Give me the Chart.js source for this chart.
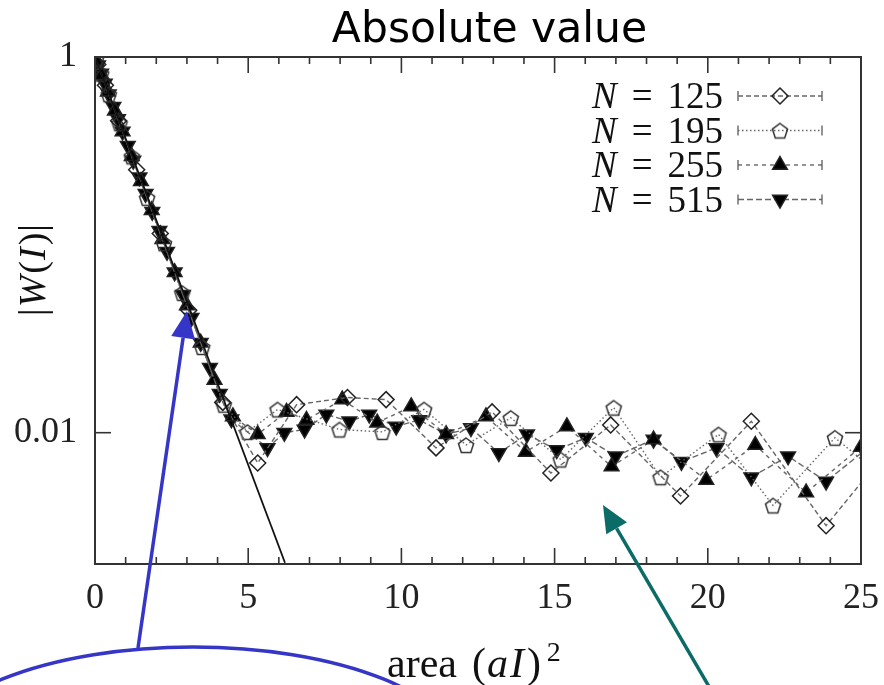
<!DOCTYPE html>
<html>
<head>
<meta charset="utf-8">
<title>Absolute value</title>
<script src="https://cdn.jsdelivr.net/npm/chart.js@4.4.1/dist/chart.umd.min.js"></script>
<style>
  html, body { margin: 0; padding: 0; background: #fff; }
  #wrap { width: 884px; height: 685px; position: relative; }
</style>
</head>
<body>
<div id="wrap"><canvas id="chart"></canvas></div>
<script>
'use strict';

/* =============================================
   DATA  (area (aI)^2  vs  |W(I)|)
   ============================================= */
const X_125 = [0.09, 0.34, 0.77, 1.36, 2.13, 3.06, 4.17, 5.31, 6.58, 8.24, 9.5, 11.13, 12.96, 14.88, 16.83, 19.11, 21.42, 23.86, 26.3];
const Y_125 = [0.913, 0.708, 0.458, 0.251, 0.115, 0.0448, 0.0145, 0.0069, 0.0141, 0.0154, 0.0150, 0.0083, 0.0129, 0.0061, 0.0110, 0.0046, 0.0115, 0.0032, 0.0098];

const X_195 = [0.03, 0.2, 0.45, 0.8, 1.2, 1.7, 2.25, 2.85, 3.5, 4.2, 4.98, 5.96, 7.98, 9.38, 10.74, 12.11, 13.57, 15.2, 16.93, 18.46, 20.35, 22.13, 24.15, 26.2];
const Y_195 = [0.970, 0.816, 0.633, 0.444, 0.296, 0.178, 0.102, 0.0555, 0.0286, 0.0141, 0.0101, 0.0133, 0.0104, 0.0101, 0.0133, 0.0086, 0.0120, 0.0072, 0.0136, 0.0058, 0.0098, 0.0041, 0.0094, 0.0050];

const X_255 = [0.05, 0.22, 0.42, 0.65, 0.9, 1.2, 1.5, 1.85, 2.2, 2.6, 3.0, 3.45, 3.9, 4.5, 5.31, 6.25, 6.9, 8.07, 9.21, 10.32, 11.46, 12.76, 14.06, 15.4, 16.86, 18.23, 19.95, 21.55, 23.21, 25.0];
const Y_255 = [0.951, 0.800, 0.653, 0.517, 0.401, 0.296, 0.218, 0.153, 0.107, 0.0714, 0.0476, 0.0301, 0.0191, 0.0122, 0.0098, 0.0129, 0.0117, 0.0150, 0.0113, 0.0138, 0.0098, 0.0122, 0.0079, 0.0108, 0.0066, 0.0092, 0.0056, 0.0086, 0.0048, 0.0084];

const X_515 = [0.0, 0.1, 0.2, 0.32, 0.45, 0.6, 0.75, 0.9, 1.07, 1.25, 1.45, 1.65, 1.87, 2.1, 2.35, 2.6, 2.87, 3.15, 3.45, 3.75, 4.07, 4.45,
               5.63, 6.18, 6.84, 7.55, 8.3, 8.95, 9.83, 10.58, 11.46, 12.27, 13.18, 14.1, 15.07, 16.02, 16.99, 18.23, 19.14, 20.28, 21.42, 22.62, 23.86, 25.1];
const Y_515 = [1.0, 0.904, 0.816, 0.723, 0.633, 0.544, 0.467, 0.401, 0.337, 0.281, 0.229, 0.187, 0.150, 0.119, 0.0920, 0.0714, 0.0543, 0.0409, 0.0301, 0.0222, 0.0161, 0.0118,
               0.0083, 0.0100, 0.0104, 0.0125, 0.0115, 0.0125, 0.0108, 0.0117, 0.0098, 0.0106, 0.0078, 0.0098, 0.0081, 0.0094, 0.0075, 0.0092, 0.0070, 0.0083, 0.0058, 0.0075, 0.0055, 0.0080];

// straight (exponential) fit line
const FIT_X = [0, 6.2];
const FIT_Y = [1, 0.00203];

const X_MIN = 0, X_MAX = 25;
const Y_MIN = 0.002, Y_MAX = 1;
const Y_TICKS = [0.01, 1];
const Y_TICK_LABELS = ['0.01', '1'];
const SERIES_N = [125, 195, 255, 515];

/* =============================================
   MARKERS
   ============================================= */
function pentagon(r) {
  const s = Math.ceil(2 * r + 4);
  const c = document.createElement('canvas');
  c.width = c.height = s;
  const g = c.getContext('2d');
  g.beginPath();
  for (let i = 0; i < 5; i++) {
    const a = -Math.PI / 2 + i * 2 * Math.PI / 5;
    g.lineTo(s / 2 + r * Math.cos(a), s / 2 + 1 + r * Math.sin(a));
  }
  g.closePath();
  g.lineWidth = 1.5;
  g.strokeStyle = '#333';
  g.stroke();
  return c;
}
const PENT = pentagon(8);

const pts = (xs, ys) => xs.map((x, i) => ({ x, y: ys[i] }));

const STYLES = [
  { style: 'rectRot', rot: 0,   r: 8,   filled: false, dash: [5, 3] },
  { style: PENT,      rot: 0,   r: 8,   filled: false, dash: [1.5, 2.5] },
  { style: 'triangle', rot: 0,  r: 8.5, filled: true,  dash: [4, 4] },
  { style: 'triangle', rot: 180, r: 8.5, filled: true, dash: [6, 3] },
];
const SERIES_DATA = [[X_125, Y_125], [X_195, Y_195], [X_255, Y_255], [X_515, Y_515]];

const datasets = [{
  label: 'fit',
  data: pts(FIT_X, FIT_Y),
  yAxisID: 'y',
  showLine: true,
  borderColor: '#111',
  borderWidth: 1.8,
  pointRadius: 0,
}];
SERIES_N.forEach((n, i) => {
  const s = STYLES[i];
  datasets.push({
    label: 'N = ' + n,
    data: pts(SERIES_DATA[i][0], SERIES_DATA[i][1]),
    yAxisID: 'y',
    showLine: true,
    borderColor: '#666',
    borderWidth: 1.4,
    borderDash: s.dash,
    pointStyle: s.style,
    pointRotation: s.rot,
    pointRadius: s.r,
    pointBorderWidth: 1.5,
    pointBorderColor: '#222',
    pointBackgroundColor: s.filled ? '#000' : 'rgba(0,0,0,0)',
  });
});

/* =============================================
   HELPERS
   ============================================= */
const SERIF = '"Liberation Serif", "DejaVu Serif", serif';
const up = size => `${size}px ${SERIF}`;
const it = size => `italic ${size}px ${SERIF}`;

// width of the widest y label, so the mirrored labels end 18px left of the axis
const mctx = document.createElement('canvas').getContext('2d');
mctx.font = 'normal ' + up(36);
const Y_LABEL_W = Math.max(...Y_TICK_LABELS.map(t => mctx.measureText(t).width));

// pieces: [text, font, dy, gapAfter]
function drawPieces(ctx, pieces, x, y, align) {
  let w = 0;
  pieces.forEach(p => { ctx.font = p[1]; w += ctx.measureText(p[0]).width + (p[3] || 0); });
  let cx = align === 'right' ? x - w : align === 'left' ? x : x - w / 2;
  ctx.textAlign = 'left';
  pieces.forEach(p => {
    ctx.font = p[1];
    ctx.fillText(p[0], cx, y + (p[2] || 0));
    cx += ctx.measureText(p[0]).width + (p[3] || 0);
  });
}

function seg(ctx, x1, y1, x2, y2) {
  ctx.beginPath(); ctx.moveTo(x1, y1); ctx.lineTo(x2, y2); ctx.stroke();
}

function arrow(ctx, x1, y1, x2, y2, color, head, half) {
  const a = Math.atan2(y2 - y1, x2 - x1);
  const bx = x2 - head * Math.cos(a), by = y2 - head * Math.sin(a);
  ctx.strokeStyle = color; ctx.fillStyle = color; ctx.lineWidth = 3.5;
  seg(ctx, x1, y1, bx, by);
  ctx.beginPath();
  ctx.moveTo(x2, y2);
  ctx.lineTo(bx + half * Math.sin(a), by - half * Math.cos(a));
  ctx.lineTo(bx - half * Math.sin(a), by + half * Math.cos(a));
  ctx.closePath();
  ctx.fill();
}

/* =============================================
   FRAME, LEGEND, AXIS TITLES, ANNOTATIONS
   ============================================= */
const decor = {
  id: 'decor',
  afterDraw(chart) {
    const { ctx, chartArea: a, scales: { x, y } } = chart;
    ctx.save();

    // inward ticks + box
    ctx.strokeStyle = '#333';
    ctx.lineWidth = 1.6;
    ctx.setLineDash([]);
    for (let v = X_MIN; v <= X_MAX; v++) {
      const px = x.getPixelForValue(v);
      const len = v % 5 === 0 ? 16 : 7;
      seg(ctx, px, a.bottom, px, a.bottom - len);
      seg(ctx, px, a.top, px, a.top + len);
    }
    Y_TICKS.forEach(v => {
      const py = y.getPixelForValue(v);
      seg(ctx, a.left, py, a.left + 16, py);
      seg(ctx, a.right, py, a.right - 16, py);
    });
    ctx.lineWidth = 2;
    ctx.strokeRect(a.left, a.top, a.right - a.left, a.bottom - a.top);

    // legend
    ctx.fillStyle = '#111';
    ctx.textBaseline = 'alphabetic';
    SERIES_N.forEach((n, i) => {
      const cy = 96 + i * 34.5;
      drawPieces(ctx, [['N', it(37), 0, 15], ['=', up(37), 0, 15], [String(n), up(37)]], 723, cy + 12, 'right');
      const s = STYLES[i];
      ctx.strokeStyle = '#666';
      ctx.lineWidth = 1.4;
      ctx.setLineDash(s.dash);
      seg(ctx, 738, cy, 822, cy);
      ctx.setLineDash([]);
      seg(ctx, 738, cy - 5, 738, cy + 5);
      seg(ctx, 822, cy - 5, 822, cy + 5);
      ctx.strokeStyle = '#222';
      ctx.lineWidth = 1.5;
      ctx.fillStyle = s.filled ? '#000' : 'rgba(0,0,0,0)';
      Chart.helpers.drawPoint(ctx, { pointStyle: s.style, rotation: s.rot, radius: s.r, borderWidth: 1.5 }, 780, cy);
      ctx.fillStyle = '#111';
    });

    // axis titles
    drawPieces(ctx, [['area', up(42), 0, 15], ['(', up(42), 0, 1], ['a', it(42), 0, 2], ['I', it(42), 0, 3],
                     [')', up(42), 0, 6], ['2', up(28), -16]], 387, 677, 'left');
    ctx.save();
    ctx.translate(33, 270);
    ctx.rotate(-Math.PI / 2);
    drawPieces(ctx, [['|', up(38), 0, 1], ['W', it(38), 0, 2], ['(', up(38), 0, 1], ['I', it(38), 0, 2], [')', up(38), 0, 1], ['|', up(38)]], 0, 12);
    ctx.restore();

    // overlay annotations
    ctx.strokeStyle = '#3535c8';
    ctx.lineWidth = 3.5;
    ctx.beginPath();
    ctx.ellipse(193, 757, 270, 110, 0, 0, 2 * Math.PI);
    ctx.stroke();
    arrow(ctx, 138, 648, 187, 311, '#3535c8', 27, 12);
    arrow(ctx, 711, 690, 603, 505, '#0b6b66', 27, 12);

    ctx.restore();
  }
};

/* =============================================
   CHART
   ============================================= */
new Chart(document.getElementById('chart'), {
  type: 'scatter',
  data: { datasets },
  plugins: [decor],
  options: {
    responsive: true,
    maintainAspectRatio: false,
    animation: false,
    layout: { padding: { left: 95, right: 0, top: 0, bottom: 0 } },
    plugins: {
      legend: { display: false },
      tooltip: { enabled: false },
      title: {
        display: true,
        text: 'Absolute value',
        color: '#000',
        font: { family: '"DejaVu Sans", sans-serif', size: 42.5, weight: 'normal' },
        padding: { top: 5.5, bottom: 0.5 },
      },
    },
    scales: {
      x: {
        type: 'linear',
        min: X_MIN,
        max: X_MAX,
        grid: { display: false },
        border: { display: false },
        ticks: {
          stepSize: 5,
          autoSkip: false,
          maxRotation: 0,
          color: '#222',
          padding: 5,
          font: { family: SERIF, size: 36 },
        },
        afterFit: s => { s.height = 121; },
      },
      y: {
        type: 'logarithmic',
        position: 'left',
        min: Y_MIN,
        max: Y_MAX,
        grid: { display: false },
        border: { display: false },
        afterBuildTicks: s => { s.ticks = Y_TICKS.map(v => ({ value: v })); },
        ticks: {
          color: '#222',
          mirror: true,
          crossAlign: 'far',
          padding: -(18 + Y_LABEL_W),
          font: { family: SERIF, size: 36 },
          callback: (v, i) => Y_TICK_LABELS[i],
        },
        afterFit: s => { s.width = 0; },
      },
      // empty right-hand strip, keeps the plot box 21px from the edge
      r: {
        type: 'linear',
        position: 'right',
        grid: { display: false },
        border: { display: false },
        ticks: { display: false },
        afterFit: s => { s.width = 21; },
      },
    },
  },
});
</script>
</body>
</html>
